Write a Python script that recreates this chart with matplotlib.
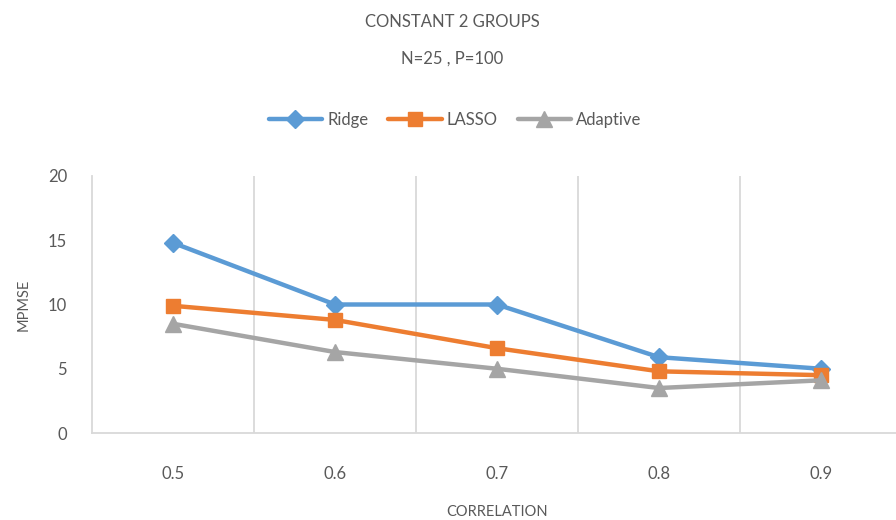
import matplotlib
matplotlib.use("Agg")
import matplotlib.pyplot as plt
from matplotlib.ticker import FixedLocator

plt.rcParams['font.family'] = ['Lato', 'DejaVu Sans']

categories = ["0.5", "0.6", "0.7", "0.8", "0.9"]
ridge = [14.8, 10.0, 10.0, 5.9, 5.0]
lasso = [9.9, 8.8, 6.6, 4.8, 4.5]
adaptive = [8.5, 6.3, 5.0, 3.5, 4.1]

series_names = ["Ridge", "LASSO", "Adaptive"]
colors = ["#5B9BD5", "#ED7D31", "#A5A5A5"]
markers = ["D", "s", "^"]
msizes = [9, 10, 11]

text_color = "#595959"
grid_color = "#D9D9D9"

fig = plt.figure(figsize=(8.96, 5.2), dpi=100)
# plot area spans (92..902, 176..433) in pixel terms
W, H = 896, 520
left, right, top, bottom = 92, 902, 176, 433
ax = fig.add_axes([left / W, 1 - bottom / H, (right - left) / W, (bottom - top) / H])

x = list(range(len(categories)))
handles = []
for vals, name, c, m, ms in zip([ridge, lasso, adaptive], series_names, colors, markers, msizes):
    h, = ax.plot(x, vals, color=c, lw=3.2, marker=m, markersize=ms,
                 markerfacecolor=c, markeredgecolor=c, label=name, zorder=3,
                 solid_capstyle="round", solid_joinstyle="round")
    handles.append(h)

ax.set_xlim(-0.5, len(categories) - 0.5)
ax.set_ylim(0, 20)
ax.set_yticks([0, 5, 10, 15, 20])
ax.set_xticks(x)
ax.set_xticklabels(categories)

# vertical gridlines at category boundaries
ax.xaxis.set_minor_locator(FixedLocator([i + 0.5 for i in range(len(categories) - 1)]))
ax.grid(True, which="minor", axis="x", color=grid_color, lw=1.3)
ax.grid(False, which="major")
ax.tick_params(which="both", length=0)
ax.tick_params(axis="y", labelsize=12, labelcolor=text_color, pad=18)
ax.tick_params(axis="x", labelsize=12, labelcolor=text_color, pad=24)

for s in ["top", "right"]:
    ax.spines[s].set_visible(False)
ax.spines["left"].set_color(grid_color)
ax.spines["left"].set_linewidth(1.3)
ax.spines["bottom"].set_color(grid_color)
ax.spines["bottom"].set_linewidth(1.3)

ax.set_ylabel("MPMSE", fontsize=10.5, color=text_color, labelpad=12)
ax.set_xlabel("CORRELATION", fontsize=10.5, color=text_color, labelpad=16)

fig.text(452 / W, 1 - 22 / H, "CONSTANT 2 GROUPS", ha="center", va="center",
         fontsize=12, color=text_color)
fig.text(452 / W, 1 - 59 / H, "N=25 , P=100", ha="center", va="center",
         fontsize=12, color=text_color)

fig.legend(handles=handles, loc="center", bbox_to_anchor=(455 / W, 1 - 120 / H),
           ncol=3, frameon=False, fontsize=12, labelcolor=text_color,
           handlelength=3.2, columnspacing=1.2, handletextpad=0.3)

fig.savefig("out.png", dpi=100, facecolor="white")
